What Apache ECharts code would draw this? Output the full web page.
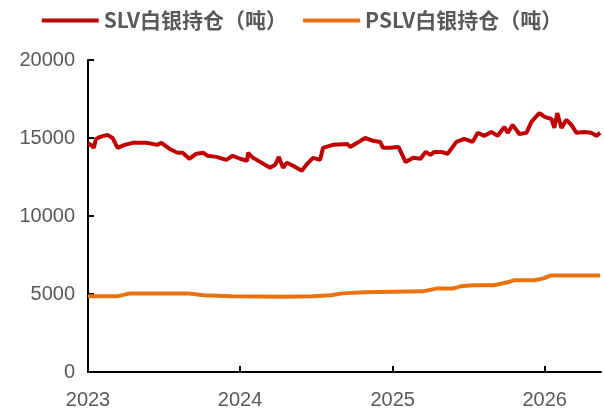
<!DOCTYPE html>
<html lang="zh-CN">
<head>
    <meta charset="UTF-8">
    <title>SLV与PSLV白银持仓</title>
    <script src="https://cdn.jsdelivr.net/npm/echarts@6/dist/echarts.min.js"></script>
    <style>
        html, body { margin: 0; padding: 0; background: #fff; }
        #main { width: 604px; height: 410px; }
    </style>
</head>
<body>
<div id="main"></div>
<script type="text/javascript">
    // 图例名称
    var seriesNames = ['SLV白银持仓（吨）', 'PSLV白银持仓（吨）'];

    // SLV 持仓（吨）
    var slvDates = [
        '2023-01-01', '2023-01-08', '2023-01-15', '2023-01-20', '2023-01-30', '2023-02-17', '2023-03-01', '2023-03-13',
        '2023-03-30', '2023-04-18', '2023-05-21', '2023-06-17', '2023-06-26', '2023-07-16', '2023-08-04', '2023-08-16',
        '2023-09-01', '2023-09-18', '2023-10-05', '2023-10-15', '2023-11-05', '2023-11-29', '2023-12-14', '2024-01-01',
        '2024-01-18', '2024-01-20', '2024-02-01', '2024-02-18', '2024-03-13', '2024-03-25', '2024-04-03', '2024-04-13',
        '2024-04-22', '2024-05-07', '2024-05-28', '2024-06-12', '2024-06-24', '2024-07-11', '2024-07-18', '2024-08-11',
        '2024-09-14', '2024-09-21', '2024-10-08', '2024-10-27', '2024-11-15', '2024-12-02', '2024-12-09', '2024-12-26',
        '2025-01-15', '2025-02-01', '2025-02-20', '2025-03-09', '2025-03-21', '2025-04-02', '2025-04-11', '2025-04-28',
        '2025-05-13', '2025-06-03', '2025-06-22', '2025-07-12', '2025-07-24', '2025-08-09', '2025-08-26', '2025-09-10',
        '2025-09-26', '2025-10-04', '2025-10-16', '2025-11-01', '2025-11-18', '2025-11-30', '2025-12-19', '2026-01-01',
        '2026-01-17', '2026-01-24', '2026-01-31', '2026-02-10', '2026-02-22', '2026-03-06', '2026-03-18', '2026-04-06',
        '2026-04-23', '2026-05-05', '2026-05-14'
    ];
    var slvValues = [
        14650, 14560, 14370, 14940, 15070, 15200, 15000, 14370,
        14560, 14690, 14690, 14560, 14690, 14300, 14050, 14050,
        13670, 13990, 14050, 13860, 13790, 13600, 13860, 13670,
        13540, 14050, 13730, 13470, 13090, 13280, 13790, 13090,
        13410, 13220, 12900, 13410, 13730, 13600, 14370, 14560,
        14620, 14430, 14690, 15000, 14820, 14750, 14370, 14370,
        14430, 13470, 13730, 13670, 14110, 13920, 14110, 14110,
        13990, 14750, 14940, 14750, 15330, 15140, 15390, 15140,
        15710, 15330, 15840, 15260, 15330, 16030, 16600, 16350,
        16220, 15650, 16600, 15650, 16160, 15840, 15330, 15390,
        15330, 15140, 15330
    ];

    // PSLV 持仓（吨）
    var pslvDates = [
        '2023-01-01', '2023-03-11', '2023-04-12', '2023-08-28', '2023-10-06', '2023-12-10', '2024-04-14', '2024-06-24',
        '2024-08-05', '2024-09-03', '2024-10-24', '2025-03-15', '2025-04-18', '2025-05-27', '2025-06-13', '2025-07-14',
        '2025-09-01', '2025-10-04', '2025-10-18', '2025-12-06', '2025-12-30', '2026-01-15', '2026-05-14'
    ];
    var pslvValues = [
        4850, 4850, 5040, 5040, 4920, 4850, 4830, 4850,
        4920, 5040, 5110, 5170, 5360, 5360, 5490, 5560,
        5560, 5750, 5880, 5880, 6000, 6190, 6190
    ];

    // 坐标轴
    var xMin = '2023-01-01';
    var xMax = '2026-05-16';
    var yTicks = [0, 5000, 10000, 15000, 20000];

    function pairs(dates, values) {
        return dates.map(function (d, i) { return [d, values[i]]; });
    }

    var YEAR = 365 * 24 * 3600 * 1000;
    var textColor = '#595959';
    var fontFamily = '"Liberation Sans", Arial, "Noto Sans CJK SC", sans-serif';

    var myChart = echarts.init(document.getElementById('main'), null, { renderer: 'canvas' });
    var option = {
        animation: false,
        backgroundColor: '#fff',
        legend: {
            top: 5,
            left: 'center',
            icon: 'rect',
            itemWidth: 57,
            itemHeight: 4,
            itemGap: 16,
            textStyle: {
                color: textColor,
                fontSize: 21,
                fontWeight: 'bold',
                fontFamily: '"Noto Sans CJK SC", "Liberation Sans", sans-serif'
            },
            data: seriesNames
        },
        grid: {
            left: 88,
            right: 3,
            top: 60,
            bottom: 37
        },
        xAxis: {
            type: 'time',
            min: xMin,
            max: xMax,
            minInterval: YEAR,
            maxInterval: YEAR,
            splitLine: { show: false },
            axisLine: { lineStyle: { color: '#000', width: 2 } },
            axisTick: { inside: true, length: 6, lineStyle: { color: '#000', width: 2 } },
            axisLabel: {
                color: textColor,
                fontSize: 20,
                fontFamily: fontFamily,
                margin: 18,
                showMaxLabel: false,
                formatter: function (v) { return String(new Date(v).getFullYear()); }
            }
        },
        yAxis: {
            type: 'value',
            min: yTicks[0],
            max: yTicks[yTicks.length - 1],
            interval: yTicks[1] - yTicks[0],
            splitLine: { show: false },
            axisLine: { show: true, lineStyle: { color: '#000', width: 2 } },
            axisTick: { show: true, inside: true, length: 6, lineStyle: { color: '#000', width: 2 } },
            axisLabel: {
                color: textColor,
                fontSize: 20,
                fontFamily: fontFamily,
                margin: 13,
                formatter: function (v) { return String(v); }
            }
        },
        series: [
            {
                name: seriesNames[0],
                type: 'line',
                symbol: 'none',
                data: pairs(slvDates, slvValues),
                lineStyle: { color: '#C00000', width: 4 },
                itemStyle: { color: '#C00000' }
            },
            {
                name: seriesNames[1],
                type: 'line',
                symbol: 'none',
                data: pairs(pslvDates, pslvValues),
                lineStyle: { color: '#E8720C', width: 4 },
                itemStyle: { color: '#E8720C' }
            }
        ]
    };
    option && myChart.setOption(option);
</script>
</body>
</html>
